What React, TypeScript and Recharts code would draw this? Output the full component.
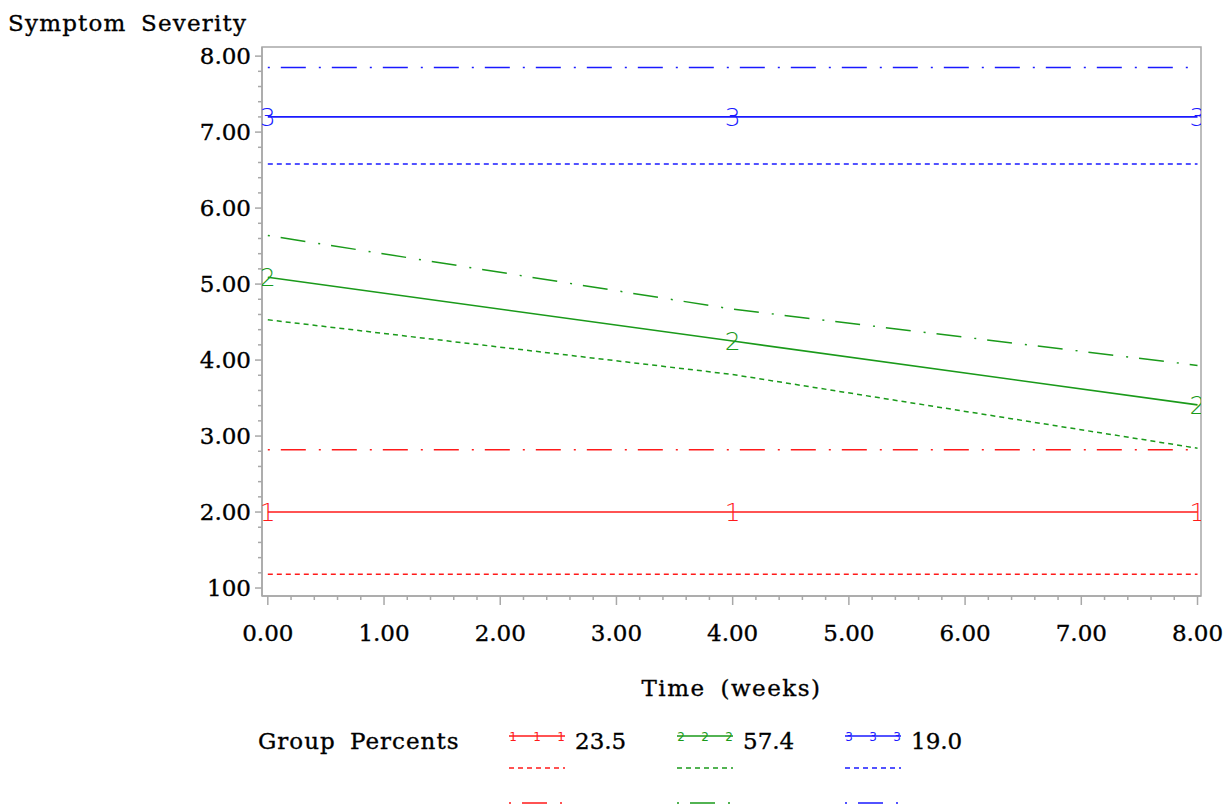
import React from "react";
import { LineChart, Line, XAxis, YAxis, ReferenceArea } from "recharts";

// time points (weeks)
const weeks = [0, 4, 8];

// group 1 (red)
const g1Est = [2.0, 2.0, 2.0];
const g1Lower = [1.18, 1.18, 1.18];
const g1Upper = [2.82, 2.82, 2.82];

// group 2 (green)
const g2Est = [5.09, 4.25, 3.41];
const g2Lower = [4.53, 3.81, 2.84];
const g2Upper = [5.64, 4.67, 3.93];

// group 3 (blue)
const g3Est = [7.2, 7.2, 7.2];
const g3Lower = [6.58, 6.58, 6.58];
const g3Upper = [7.85, 7.85, 7.85];

const groupIds = ["1", "2", "3"];
const groupPercents = ["23.5", "57.4", "19.0"];
const groupColors = ["#ff1a1a", "#1a9a1a", "#1a1aff"];

const xMajor = [0, 1, 2, 3, 4, 5, 6, 7, 8];
const xLabels = ["0.00", "1.00", "2.00", "3.00", "4.00", "5.00", "6.00", "7.00", "8.00"];
const yMajor = [1, 2, 3, 4, 5, 6, 7, 8];
const yLabels = ["100", "2.00", "3.00", "4.00", "5.00", "6.00", "7.00", "8.00"];

const xDomain = [-0.05, 8.03];
const yDomain = [0.895, 8.12];

// majors plus 4 minor ticks between each pair
function withMinors(major: number[]) {
  const out: number[] = [];
  major.forEach((m, i) => {
    out.push(m);
    if (i < major.length - 1) for (let k = 1; k < 5; k++) out.push(+(m + k * 0.2).toFixed(2));
  });
  return out;
}
const xTicks = withMinors(xMajor);
const yTicks = withMinors(yMajor);

const data = weeks.map((w, i) => ({
  week: w,
  g1: g1Est[i], g1lo: g1Lower[i], g1hi: g1Upper[i],
  g2: g2Est[i], g2lo: g2Lower[i], g2hi: g2Upper[i],
  g3: g3Est[i], g3lo: g3Lower[i], g3hi: g3Upper[i],
}));

const FONT = "'DejaVu Serif', serif";
const AXIS = "#a8a8a8";
const DASH = "5 4";
const DASHDOT = "2 11 25 13";
const TXT = { fontFamily: FONT, fontSize: 23, fill: "#000", stroke: "#000", strokeWidth: 0.35 };

const isMajor = (v: number) => Math.abs(v - Math.round(v)) < 1e-6;

// eslint-disable-next-line @typescript-eslint/no-explicit-any
function YTick({ x, y, payload }: any) {
  const v = payload.value;
  const major = isMajor(v);
  const idx = yMajor.indexOf(Math.round(v));
  return (
    <g>
      <line x1={x - (major ? 7 : 4)} x2={x} y1={y} y2={y} stroke={AXIS} strokeWidth={1.5} />
      {major && (
        <text x={x - 11} y={y + 8} textAnchor="end" {...TXT}>
          {yLabels[idx]}
        </text>
      )}
    </g>
  );
}

// eslint-disable-next-line @typescript-eslint/no-explicit-any
function XTick({ x, y, payload }: any) {
  const v = payload.value;
  const major = isMajor(v);
  const idx = xMajor.indexOf(Math.round(v));
  return (
    <g>
      <line x1={x} x2={x} y1={y} y2={y + (major ? 9 : 4)} stroke={AXIS} strokeWidth={1.5} />
      {major && (
        <text x={x} y={y + 45} textAnchor="middle" {...TXT}>
          {xLabels[idx]}
        </text>
      )}
    </g>
  );
}

function makeDot(id: string, color: string) {
  // eslint-disable-next-line @typescript-eslint/no-explicit-any
  return (p: any) => (
    <text
      key={`d${id}-${p.index}`}
      x={p.cx}
      y={p.cy + 9}
      textAnchor="middle"
      fontFamily="'DejaVu Sans', sans-serif"
      fontWeight={200}
      fontSize={25}
      fill={color}
    >
      {id}
    </text>
  );
}

function LegendRows() {
  const startX = [509, 677, 845];
  return (
    <svg width={1231} height={808} style={{ position: "absolute", left: 0, top: 0, pointerEvents: "none" }}>
      <text x={258} y={749} {...TXT} letterSpacing={1} wordSpacing={6}>
        Group Percents
      </text>
      {groupIds.map((id, i) => {
        const sx = startX[i];
        const c = groupColors[i];
        return (
          <g key={id}>
            <line x1={sx} x2={sx + 56} y1={736} y2={736} stroke={c} strokeWidth={1.5} />
            {[4, 28, 52].map((o) => (
              <text key={o} x={sx + o} y={741} textAnchor="middle" fontFamily="'DejaVu Sans', sans-serif" fontSize={12} fill={c}>
                {id}
              </text>
            ))}
            <text x={sx + 66} y={749} {...TXT}>
              {groupPercents[i]}
            </text>
            <line x1={sx} x2={sx + 56} y1={768} y2={768} stroke={c} strokeWidth={1.5} strokeDasharray={DASH} />
            <line x1={sx} x2={sx + 56} y1={803} y2={803} stroke={c} strokeWidth={1.5} strokeDasharray={DASHDOT} />
          </g>
        );
      })}
    </svg>
  );
}

export default function App() {
  const est = [
    { key: "g1", id: "1", c: groupColors[0] },
    { key: "g2", id: "2", c: groupColors[1] },
    { key: "g3", id: "3", c: groupColors[2] },
  ];
  return (
    <div style={{ position: "absolute", left: 0, top: 0, width: 1231, height: 808, background: "#fff", overflow: "hidden" }}>
      <LineChart width={1231} height={808} data={data} margin={{ top: 47, right: 30, left: 182, bottom: 152 }}>
        <ReferenceArea x1={xDomain[0]} x2={xDomain[1]} y1={yDomain[0]} y2={yDomain[1]} fill="none" stroke={AXIS} strokeWidth={1.5} ifOverflow="visible" />
        <XAxis
          dataKey="week"
          type="number"
          domain={xDomain}
          ticks={xTicks}
          interval={0}
          allowDataOverflow
          height={60}
          tickSize={0}
          tickMargin={0}
          axisLine={{ stroke: AXIS, strokeWidth: 1.5 }}
          tick={<XTick />}
          label={{ value: "Time (weeks)", position: "bottom", offset: 24, ...TXT, letterSpacing: 1.5, wordSpacing: 6 }}
        />
        <YAxis
          type="number"
          domain={yDomain}
          ticks={yTicks}
          interval={0}
          allowDataOverflow
          width={80}
          tickSize={0}
          tickMargin={0}
          axisLine={{ stroke: AXIS, strokeWidth: 1.5 }}
          tick={<YTick />}
        />
        {est.map((s) => (
          <Line key={s.key + "lo"} type="linear" dataKey={s.key + "lo"} stroke={s.c} strokeWidth={1.5} strokeDasharray={DASH} dot={false} activeDot={false} isAnimationActive={false} />
        ))}
        {est.map((s) => (
          <Line key={s.key + "hi"} type="linear" dataKey={s.key + "hi"} stroke={s.c} strokeWidth={1.5} strokeDasharray={DASHDOT} dot={false} activeDot={false} isAnimationActive={false} />
        ))}
        {est.map((s) => (
          <Line key={s.key} type="linear" dataKey={s.key} stroke={s.c} strokeWidth={1.6} dot={makeDot(s.id, s.c)} activeDot={false} isAnimationActive={false} />
        ))}
      </LineChart>
      <div style={{ position: "absolute", left: 8, top: 12, fontFamily: FONT, fontSize: 23, lineHeight: "23px", letterSpacing: 1.2, wordSpacing: 6, color: "#000", WebkitTextStroke: "0.35px #000" }}>
        Symptom Severity
      </div>
      <LegendRows />
    </div>
  );
}
